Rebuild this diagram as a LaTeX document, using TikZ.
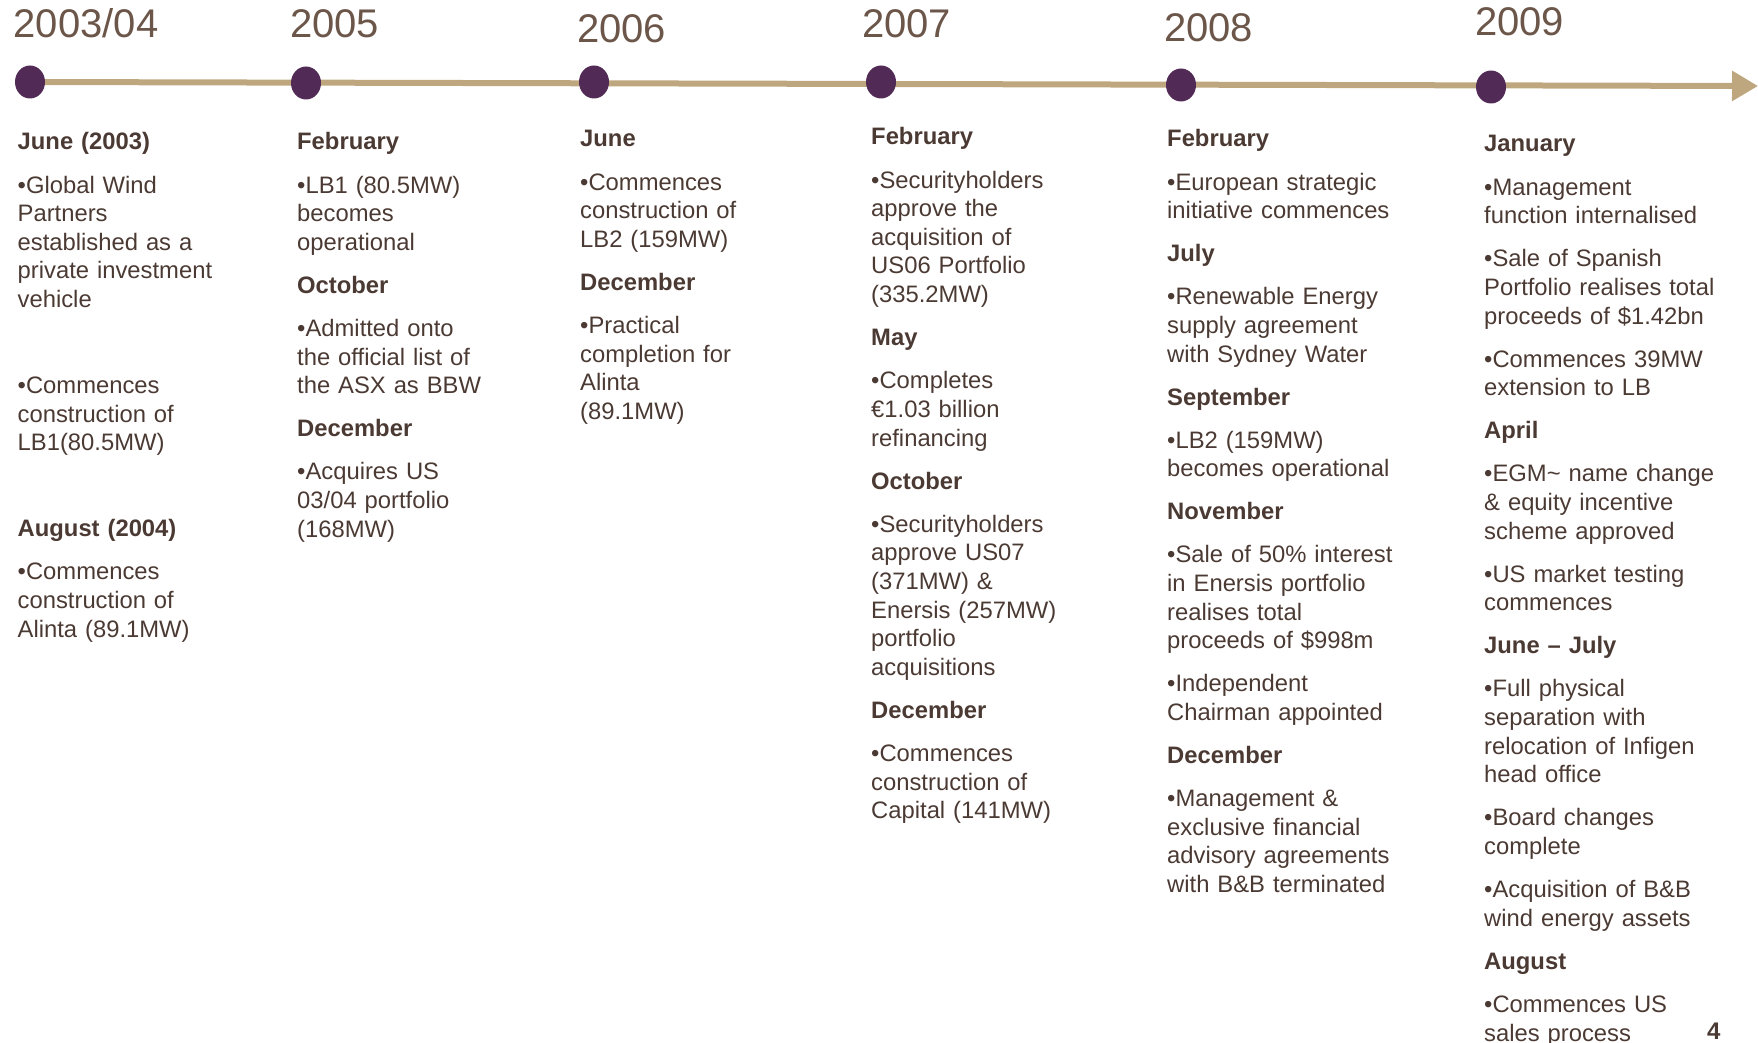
\documentclass[tikz,border=0pt]{standalone}
\usepackage{fontspec}
\setmainfont{Liberation Sans}
\usetikzlibrary{arrows.meta,shapes.geometric,backgrounds}
\definecolor{yr}{HTML}{6B5649}
\definecolor{txt}{HTML}{4B3A33}
\definecolor{dotc}{HTML}{522A56}
\definecolor{linec}{HTML}{BEA77E}
\newcommand{\ngap}{\\[14.4pt]}

\begin{document}
\begin{tikzpicture}[x=1pt, y=-1pt,
    dot/.style={fill=dotc, ellipse, minimum width=30pt, minimum height=33pt, inner sep=0pt},
    year/.style={anchor=base west, inner sep=0pt, text=yr, font=\fontsize{40}{48}\selectfont},
    col/.style={anchor=base west, inner sep=0pt, text=txt, text width=290pt, align=left, font=\fontsize{23.8}{28.65}\selectfont}]
    \useasboundingbox (0, 0) rectangle (1758, 1043);

    \node[year] (y1) at (13.5, 38) {2003/04};
    \node[year] (y2) at (290, 38) {2005};
    \node[year] (y3) at (577, 42.5) {2006};
    \node[year] (y4) at (862, 38) {2007};
    \node[year] (y5) at (1164, 41.5) {2008};
    \node[year] (y6) at (1475, 36) {2009};

    \coordinate (tip) at (1758, 86);
    \node[dot] (d1) at (30, 82) {};
    \node[dot] (d2) at (306, 83) {};
    \node[dot] (d3) at (594, 82) {};
    \node[dot] (d4) at (881, 82) {};
    \node[dot] (d5) at (1181, 85) {};
    \node[dot] (d6) at (1491, 87) {};

    \begin{pgfonlayer}{background}
    \draw[linec, line width=6pt, -{Triangle[length=26pt, width=29pt]}] (d1.center) -- (tip);
    \end{pgfonlayer}

    \node[col] (c1) at (17.5, 150) {\textbf{June (2003)}\ngap
        •Global Wind\\Partners\\established as a\\private investment\\vehicle\\[57.3pt]
        •Commences\\construction of\\LB1(80.5MW)\\[57.3pt]
        \textbf{August (2004)}\ngap
        •Commences\\construction of\\Alinta (89.1MW)};
    \node[col] (c2) at (297, 150) {\textbf{February}\ngap
        •LB1 (80.5MW)\\becomes\\operational\ngap
        \textbf{October}\ngap
        •Admitted onto\\the official list of\\the ASX as BBW\ngap
        \textbf{December}\ngap
        •Acquires US\\03/04 portfolio\\(168MW)};
    \node[col] (c3) at (580, 147) {\textbf{June}\ngap
        •Commences\\construction of\\LB2 (159MW)\ngap
        \textbf{December}\ngap
        •Practical\\completion for\\Alinta\\(89.1MW)};
    \node[col] (c4) at (871, 145) {\textbf{February}\ngap
        •Securityholders\\approve the\\acquisition of\\US06 Portfolio\\(335.2MW)\ngap
        \textbf{May}\ngap
        •Completes\\€1.03 billion\\refinancing\ngap
        \textbf{October}\ngap
        •Securityholders\\approve US07\\(371MW) \&\\Enersis (257MW)\\portfolio\\acquisitions\ngap
        \textbf{December}\ngap
        •Commences\\construction of\\Capital (141MW)};
    \node[col] (c5) at (1167, 147) {\textbf{February}\ngap
        •European strategic\\initiative commences\ngap
        \textbf{July}\ngap
        •Renewable Energy\\supply agreement\\with Sydney Water\ngap
        \textbf{September}\ngap
        •LB2 (159MW)\\becomes operational\ngap
        \textbf{November}\ngap
        •Sale of 50\% interest\\in Enersis portfolio\\realises total\\proceeds of \$998m\ngap
        •Independent\\Chairman appointed\ngap
        \textbf{December}\ngap
        •Management \&\\exclusive financial\\advisory agreements\\with B\&B terminated};
    \node[col] (c6) at (1484, 152) {\textbf{January}\ngap
        •Management\\function internalised\ngap
        •Sale of Spanish\\Portfolio realises total\\proceeds of \$1.42bn\ngap
        •Commences 39MW\\extension to LB\ngap
        \textbf{April}\ngap
        •EGM\textasciitilde{} name change\\\& equity incentive\\scheme approved\ngap
        •US market testing\\commences\ngap
        \textbf{June – July}\ngap
        •Full physical\\separation with\\relocation of Infigen\\head office\ngap
        •Board changes\\complete\ngap
        •Acquisition of B\&B\\wind energy assets\ngap
        \textbf{August}\ngap
        •Commences US\\sales process};

    \node[anchor=base west, inner sep=0pt, text=txt, font=\fontsize{24}{28.6}\selectfont\bfseries] (pg) at (1707, 1039) {4};
\end{tikzpicture}
\end{document}
